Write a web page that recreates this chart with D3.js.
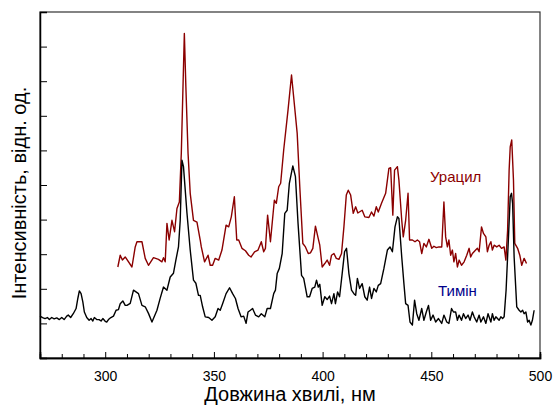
<!DOCTYPE html>
<html>
<head>
<meta charset="utf-8">
<script src="https://cdn.jsdelivr.net/npm/d3@7"></script>
<style>
  body { margin: 0; background: #fff; }
  svg { display: block; font-family: Arial, "Liberation Sans", sans-serif; }
</style>
</head>
<body>
<svg width="553" height="405"></svg>
<script>
// Тимін (black)
var thymineNm = [270, 271.2, 272.3, 273.4, 274.3, 275.4, 276.5, 277.7, 278.9, 280.0, 281.1, 282.3, 283.0, 284.1, 285.3, 286.6, 287.4, 288.1, 288.9, 289.7, 290.4, 291.5, 292.6, 293.5, 294.3, 295.0, 296.1, 297.2, 298.1, 298.9, 300.0, 300.7, 301.5, 302.6, 303.8, 305.0, 306.1, 306.9, 308.1, 309.2,
  310.0, 311.5, 313.0, 315.3, 316.9, 318.4, 319.9, 321.5, 323.8, 325.3, 326.8, 328.4, 329.9, 331.4, 332.5, 333.7, 334.5, 335.3, 336.0, 337.6, 339.1, 340.6, 341.7, 342.9,
  343.7, 344.8, 346.0, 347.6, 349.1, 350.6, 351.9, 352.9, 354.0, 355.6, 357.2, 358.6, 359.9, 361.1, 362.5, 363.7, 364.8, 365.7, 366.8, 367.8, 369.1, 370.6, 371.8, 373.4, 374.5, 376.0, 377.5, 378.3, 379.1, 380.1,
  381.4, 382.6, 383.7, 384.7, 386.3, 387.5, 388.7, 390.3, 391.3, 392.9, 394.0, 395.2, 396.4, 397.2, 398.0, 398.7, 399.8, 401.0, 402.1, 403.2, 404.1, 405.2, 405.9, 406.9, 407.8, 409.0, 410.1, 411.0, 412.1, 413.3, 414.4, 415.2, 416.0, 417.0,
  418.2, 419.4, 420.5, 421.6, 422.5, 423.6, 424.7, 425.6, 426.7, 428.2, 429.8, 431.0, 432.1, 433.3, 434.4, 435.1, 436.4, 437.4, 438.2, 439.3, 440.2, 441.3, 442.3, 443.3, 444.3, 445.6, 446.6, 447.7, 448.7, 449.7, 450.8, 452.0, 453.3, 454.8,
  455.8, 457.1, 458.1, 459.3, 460.2, 461.2, 462.0, 462.8, 463.9, 464.8, 465.8, 466.9, 467.8, 468.9, 469.7, 470.9, 472.0, 472.8, 474.0, 475.1, 476.1, 477.4, 478.1, 478.9, 479.7, 481.2, 482.0, 482.8, 483.5, 484.4, 485.3, 486.3, 486.9, 487.4, 488.1, 489.3, 490.4, 491.2, 492.0, 492.7, 493.5, 494.3, 495.0, 495.8, 496.5, 497.3];
var thymineVal = [1.21, 1.17, 1.14, 1.17, 1.11, 1.17, 1.13, 1.16, 1.11, 1.17, 1.11, 1.21, 1.24, 1.17, 1.28, 1.43, 1.72, 1.94, 1.86, 1.62, 1.33, 1.17, 1.09, 1.14, 1.07, 1.17, 1.11, 1.11, 1.07, 1.14, 1.06, 1.04, 1.11, 1.17, 1.21, 1.38, 1.40, 1.57, 1.65, 1.52,
  1.52, 1.58, 1.96, 1.86, 1.52, 1.48, 1.29, 1.04, 1.38, 1.73, 2.05, 1.96, 2.34, 2.45, 2.83, 3.21, 3.98, 5.72, 5.53, 4.19, 3.12, 2.25, 2.16, 1.81,
  1.81, 1.48, 1.19, 1.17, 1.09, 1.19, 1.43, 1.38, 1.57, 1.86, 2.03, 1.86, 1.72, 1.43, 1.19, 1.21, 1.00, 1.33, 1.38, 1.43, 1.24, 1.19, 1.28, 1.19, 1.43, 1.43, 1.86, 1.96, 2.44, 2.59,
  3.02, 4.18, 4.27, 5.05, 5.55, 5.24, 3.89, 2.39, 2.30, 1.77, 1.77, 2.01, 2.05, 2.25, 2.05, 2.13, 1.52, 1.77, 1.69, 1.79, 1.57, 1.86, 1.57, 1.91, 1.77, 2.44, 3.07, 3.17, 2.44, 1.96, 1.86, 1.81, 2.30, 2.01,
  2.15, 1.77, 1.67, 2.05, 1.72, 2.01, 1.91, 2.10, 2.15, 2.59, 3.12, 3.21, 3.07, 3.79, 4.08, 4.03, 2.92, 2.15, 1.57, 1.52, 1.04, 0.95, 1.67, 1.28, 1.09, 1.43, 1.09, 1.33, 1.52, 1.09, 1.24, 1.04, 1.14, 1.00,
  1.24, 1.04, 1.00, 1.43, 1.33, 1.33, 1.09, 1.24, 1.09, 1.28, 1.14, 1.24, 1.09, 1.33, 1.19, 1.04, 1.24, 1.04, 1.19, 1.00, 1.28, 1.04, 1.28, 1.09, 1.19, 1.09, 1.19, 1.14, 1.19, 1.96, 3.21, 4.66, 4.76, 4.47, 2.92, 1.48, 1.38, 1.33, 1.38, 1.28, 1.33, 1.04, 1.09, 0.95, 1.09, 1.38];

// Урацил (dark red)
var uracilNm = [305.8, 306.9, 307.9, 309.2, 312.3, 313.8, 314.6, 316.9, 318.4, 319.9, 322.2, 324.5, 326.1, 326.8, 327.6, 328.4, 329.4, 330.7, 331.9, 333.0, 334.1, 335.0, 336.4, 337.1, 338.1, 339.1, 340.6, 342.2, 343.7,
  344.2, 345.7, 347.3, 348.3, 349.4, 350.6, 352.2, 353.7, 355.6, 356.8, 358.0, 359.4, 360.5, 361.4, 362.9, 364.5, 366.0, 367.1, 368.7, 370.3, 371.8, 372.9, 373.7, 374.7, 376.0, 377.8, 378.7, 379.8, 380.7,
  382.1, 384.1, 385.7, 388.3, 389.5, 390.9, 392.1, 393.4, 394.4, 395.5, 396.7, 398.0, 398.7, 399.8, 401.0, 402.1, 403.2, 404.1, 405.2, 406.3, 407.5, 408.7, 409.8, 410.9, 411.8, 412.9, 414.1, 415.2, 416.2,
  418.2, 419.4, 421.3, 422.5, 423.6, 424.7, 425.6, 427.1, 429.0, 429.9, 430.5, 431.3, 432.3, 433.1, 434.4, 435.1, 436.4, 437.1, 438.2, 439.3, 440.0, 441.3, 442.5, 443.6, 444.6, 445.6, 446.6, 447.7, 448.9, 450.2, 451.2, 452.3, 453.5, 454.8,
  455.8, 456.6, 457.4, 458.1, 458.9, 459.7, 460.4, 461.2, 462.0, 462.8, 463.9, 465.1, 466.3, 467.4, 468.1, 468.9, 470.4, 471.2, 472.0, 473.1, 474.0, 475.1, 475.8, 476.6, 477.4, 478.1, 478.9, 480.1, 481.2, 482.3, 483.5, 484.3, 485.1, 485.8, 486.3, 487.0, 487.8, 488.4, 489.7, 490.7, 491.6, 492.7, 493.8];
var uracilVal = [2.63, 2.97, 2.83, 2.92, 2.63, 3.21, 3.36, 3.36, 2.88, 2.68, 2.90, 2.85, 2.78, 2.90, 2.78, 3.89, 3.41, 3.98, 3.65, 4.32, 4.51, 5.92, 9.38, 7.84, 5.92, 4.76, 3.98, 3.93, 3.41,
  3.21, 2.78, 2.97, 2.68, 2.68, 2.88, 2.83, 3.12, 3.84, 3.79, 4.08, 4.66, 3.41, 3.41, 3.17, 3.10, 2.97, 2.92, 3.07, 3.12, 3.36, 3.07, 3.17, 4.13, 3.36, 4.56, 4.47, 4.95, 5.05,
  6.01, 7.17, 8.18, 6.50, 4.95, 3.31, 3.21, 3.02, 3.04, 3.17, 3.81, 3.45, 3.26, 2.63, 2.73, 2.83, 2.68, 2.97, 3.02, 2.88, 2.85, 3.02, 3.79, 4.71, 4.85, 4.71, 4.18, 4.37, 4.19,
  4.27, 4.08, 4.06, 4.22, 4.10, 4.37, 4.22, 4.47, 4.76, 5.19, 5.48, 5.50, 4.13, 5.43, 5.53, 5.14, 3.98, 3.50, 3.98, 4.76, 3.41, 3.41, 3.36, 3.41, 3.36, 3.02, 3.31, 3.21, 3.43, 3.17, 3.23, 3.19, 3.21, 3.21,
  4.51, 3.50, 3.21, 3.41, 2.97, 3.12, 2.78, 3.02, 2.63, 2.83, 2.68, 2.78, 2.97, 3.17, 2.92, 3.02, 3.12, 3.17, 3.07, 3.79, 3.60, 3.50, 3.07, 3.26, 3.36, 3.12, 3.26, 3.21, 3.26, 3.17, 3.21, 2.83, 3.69, 5.43, 6.10, 6.30, 5.14, 3.31, 3.17, 2.97, 2.68, 2.88, 2.73];

var xTicksMajor = [300, 350, 400, 450, 500];
var xTicksMinor = [280, 290, 310, 320, 330, 340, 360, 370, 380, 390, 410, 420, 430, 440, 460, 470, 480, 490];
var yTicks = [1, 2, 3, 4, 5, 6, 7, 8, 9];

var svg = d3.select('svg');
var margin = { top: 12, right: 13, bottom: 47, left: 40 };
var width = 553, height = 405;
var innerWidth = width - margin.left - margin.right;
var innerHeight = height - margin.top - margin.bottom;

var x = d3.scaleLinear().domain([270, 500]).range([0, innerWidth]);
var y = d3.scaleLinear().domain([0, 10]).range([innerHeight, 0]);

var g = svg.append('g')
  .attr('transform', `translate(${margin.left},${margin.top})`);

// frame
g.append('rect')
  .attr('width', innerWidth)
  .attr('height', innerHeight)
  .attr('fill', 'none')
  .attr('stroke', '#333')
  .attr('stroke-width', 1.2);

// bottom axis, ticks pointing inward
var xMinor = d3.axisBottom(x).tickValues(xTicksMinor).tickSize(-4).tickFormat('');
var xMajor = d3.axisBottom(x).tickValues(xTicksMajor).tickSize(-6).tickPadding(13).tickFormat(d3.format('d'));
g.append('g').attr('transform', `translate(0,${innerHeight})`).call(xMinor)
  .call(a => a.selectAll('text').remove());
g.append('g').attr('transform', `translate(0,${innerHeight})`).call(xMajor)
  .call(a => a.selectAll('text').attr('font-size', 14).attr('fill', '#000').attr('font-family', 'Arial, "Liberation Sans", sans-serif'));

var yAxis = d3.axisLeft(y).tickValues(yTicks).tickSize(-7).tickFormat('');
g.append('g').call(yAxis)
  .call(a => a.selectAll('text').remove());

svg.selectAll('.domain').attr('stroke', '#000').attr('stroke-width', 1.5);
svg.selectAll('.tick line').attr('stroke', '#000').attr('stroke-width', 1);

var line = d3.line()
  .x(d => x(d[0]))
  .y(d => y(d[1]));

g.append('path')
  .datum(uracilNm.map((v, i) => [v, uracilVal[i]]))
  .attr('fill', 'none')
  .attr('stroke', '#8b0000')
  .attr('stroke-width', 1.4)
  .attr('stroke-linejoin', 'round')
  .attr('d', line);

g.append('path')
  .datum(thymineNm.map((v, i) => [v, thymineVal[i]]))
  .attr('fill', 'none')
  .attr('stroke', '#000')
  .attr('stroke-width', 1.4)
  .attr('stroke-linejoin', 'round')
  .attr('d', line);

// series labels
svg.append('text')
  .attr('x', 430).attr('y', 182)
  .attr('font-size', 15).attr('fill', '#8b0000')
  .text('Урацил');

svg.append('text')
  .attr('x', 438).attr('y', 296)
  .attr('font-size', 15).attr('fill', '#00008b')
  .text('Тимін');

// axis titles
svg.append('text')
  .attr('x', 290).attr('y', 401)
  .attr('text-anchor', 'middle')
  .attr('font-size', 20)
  .text('Довжина хвилі, нм');

svg.append('text')
  .attr('transform', 'translate(26,193) rotate(-90)')
  .attr('text-anchor', 'middle')
  .attr('font-size', 20)
  .text('Інтенсивність, відн. од.');
</script>
</body>
</html>
